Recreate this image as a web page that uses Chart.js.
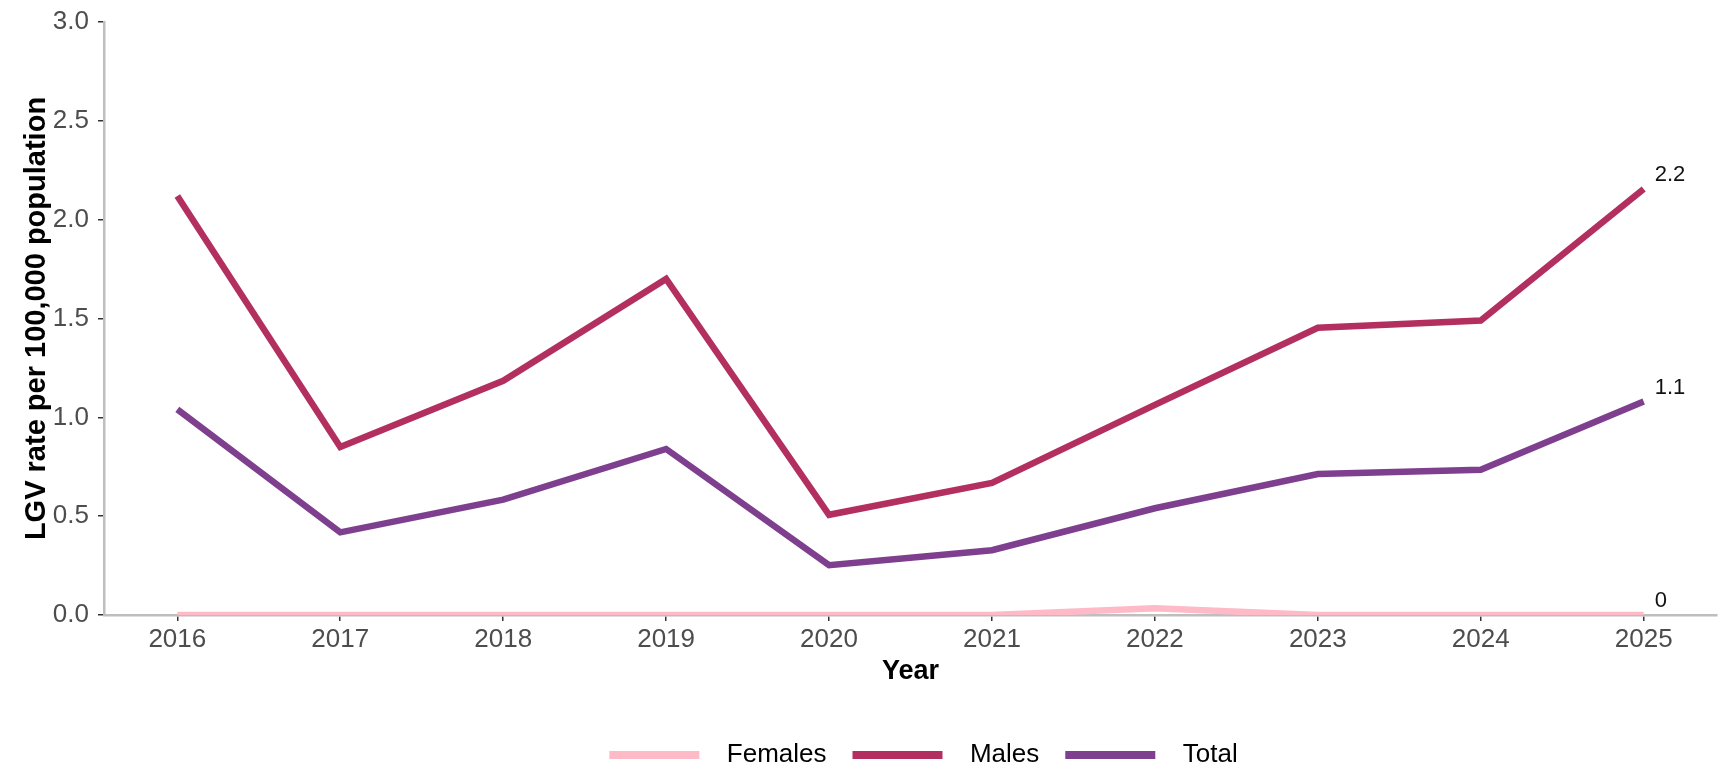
<!DOCTYPE html>
<html>
<head>
<meta charset="utf-8">
<title>LGV rate</title>
<script src="https://cdn.jsdelivr.net/npm/chart.js@4.4.1/dist/chart.umd.min.js"></script>
<style>
  html, body { margin: 0; padding: 0; background: #fff; }
  #wrap { width: 1734px; height: 768px; }
</style>
</head>
<body>
<div id="wrap"><canvas id="lgvChart" width="1734" height="768"></canvas></div>
<script>
// --- DATA ---
const years = [2016, 2017, 2018, 2019, 2020, 2021, 2022, 2023, 2024, 2025];
const females = [0, 0, 0, 0, 0, 0, 0.034, 0, 0, 0];
const males = [2.12, 0.85, 1.185, 1.70, 0.507, 0.668, 1.063, 1.453, 1.49, 2.155];
const total = [1.04, 0.418, 0.584, 0.84, 0.252, 0.328, 0.54, 0.713, 0.735, 1.08];
const yTicks = [0, 0.5, 1.0, 1.5, 2.0, 2.5, 3.0];

const FONT = "'Liberation Sans', Arial, Helvetica, sans-serif";

function series(label, values, color) {
    return {
        label: '  ' + label,
        data: years.map((yr, i) => ({ x: yr, y: values[i] })),
        borderColor: color,
        backgroundColor: color,
        borderWidth: 6.5,
        pointRadius: 0,
        tension: 0,
        clip: 0
    };
}

// end-of-line value labels (2.2, 1.1, 0)
const endLabels = {
    id: 'endLabels',
    afterDatasetsDraw(chart) {
        const ctx = chart.ctx;
        ctx.save();
        ctx.font = '22px ' + FONT;
        ctx.fillStyle = '#111';
        ctx.textAlign = 'left';
        ctx.textBaseline = 'middle';
        chart.data.datasets.forEach((ds, i) => {
            const meta = chart.getDatasetMeta(i);
            const pt = meta.data[meta.data.length - 1];
            const v = ds.data[ds.data.length - 1].y;
            ctx.fillText(String(Number(v.toFixed(1))), pt.x + 11, pt.y - 14);
        });
        ctx.restore();
    }
};

// ggplot centres the legend a bit right of the panel centre
const legendShift = {
    id: 'legendShift',
    afterLayout(chart) {
        chart.legend.left += 13;
        chart.legend.right += 13;
    }
};

const tickGrid = {
    display: true,
    drawOnChartArea: false,
    drawTicks: true,
    tickLength: 6,
    color: '#333',
    lineWidth: 1.5
};

new Chart(document.getElementById('lgvChart').getContext('2d'), {
    type: 'line',
    data: {
        datasets: [
            series('Females', females, '#ffbac8'),
            series('Males', males, '#b22f5f'),
            series('Total', total, '#7f3f8f')
        ]
    },
    options: {
        responsive: false,
        animation: false,
        layout: { padding: { left: 0, right: 17, top: 19, bottom: -10 } },
        plugins: {
            tooltip: { enabled: false },
            legend: {
                position: 'bottom',
                fullSize: false,
                labels: {
                    boxWidth: 90,
                    boxHeight: 8,
                    padding: 26,
                    color: '#000',
                    font: { family: FONT, size: 26 },
                    generateLabels(chart) {
                        return Chart.defaults.plugins.legend.labels.generateLabels(chart)
                            .map(l => Object.assign(l, { lineWidth: 0 }));
                    }
                }
            }
        },
        scales: {
            x: {
                type: 'linear',
                min: years[0] - 0.45,
                max: years[years.length - 1] + 0.45,
                afterBuildTicks: (scale) => { scale.ticks = years.map(v => ({ value: v })); },
                afterFit: (scale) => { scale.height = 101; },
                grid: tickGrid,
                border: { display: true, color: '#bebebe', width: 2.5 },
                ticks: {
                    color: '#4d4d4d',
                    padding: 3,
                    font: { family: FONT, size: 26 },
                    callback: (v) => String(v)
                },
                title: {
                    display: true,
                    text: 'Year',
                    color: '#000',
                    padding: { top: 0, bottom: 28 },
                    font: { family: FONT, size: 27, weight: 'bold' }
                }
            },
            y: {
                min: 0,
                max: 3,
                afterBuildTicks: (scale) => { scale.ticks = yTicks.map(v => ({ value: v })); },
                afterFit: (scale) => { scale.width = 104; },
                grid: tickGrid,
                border: { display: true, color: '#bebebe', width: 2.5 },
                ticks: {
                    color: '#4d4d4d',
                    padding: 9,
                    font: { family: FONT, size: 26, lineHeight: 1 },
                    callback: (v) => v.toFixed(1)
                },
                title: {
                    display: true,
                    text: 'LGV rate per 100,000 population',
                    color: '#000',
                    padding: { top: 20, bottom: 0 },
                    font: { family: FONT, size: 29, weight: 'bold' }
                }
            }
        }
    },
    plugins: [endLabels, legendShift]
});
</script>
</body>
</html>
